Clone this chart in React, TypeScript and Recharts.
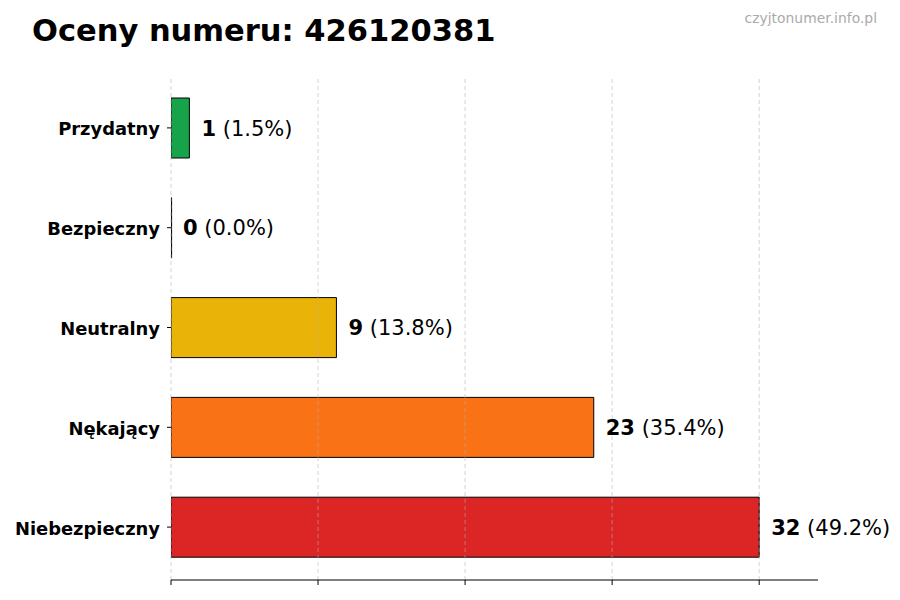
import React from "react";
import { BarChart, Bar, XAxis, YAxis, ReferenceLine, Cell, LabelList } from "recharts";

const categories = ["Przydatny", "Bezpieczny", "Neutralny", "Nękający", "Niebezpieczny"];
const counts = [1, 0, 9, 23, 32];
const percents = ["1.5%", "0.0%", "13.8%", "35.4%", "49.2%"];
const colors = ["#16a34a", "#6b7280", "#eab308", "#f97316", "#dc2626"];
const xTicks = [0, 8, 16, 24, 32];
const xMax = 35.2;

const data = categories.map((name, i) => ({ name, value: counts[i], pct: percents[i], color: colors[i] }));

const FONT = "DejaVu Sans, sans-serif";

const EmptyTick = () => null;

const YTick = (props: any) => {
  const { x, y, payload } = props;
  return (
    <text x={x} y={y + 1} dy="0.36em" textAnchor="end" fontFamily={FONT} fontWeight="bold" fontSize={17.9} fill="#000">
      {payload.value}
    </text>
  );
};

const ValueLabel = (props: any) => {
  const { x, y, height, value } = props;
  const d = data.find((e) => e.name === value);
  if (!d) return null;
  const endX = x + (d.value === 0 ? 0 : props.width);
  return (
    <text x={endX + 12} y={y + height / 2} dy="0.36em" fontFamily={FONT} fontSize={21} fill="#000">
      <tspan fontWeight="bold">{d.value}</tspan>
      <tspan> ({d.pct})</tspan>
    </text>
  );
};

export default function App() {
  return (
    <div style={{ position: "absolute", left: 0, top: 0, width: 900, height: 600, background: "#fff", fontFamily: FONT }}>
      <div style={{ position: "absolute", left: 32, top: 13, fontSize: 30.5, fontWeight: "bold", color: "#000", whiteSpace: "nowrap", lineHeight: "36px" }}>
        Oceny numeru: 426120381
      </div>
      <div style={{ position: "absolute", right: 23, top: 9, fontSize: 13.9, color: "#aaaaaa", whiteSpace: "nowrap", lineHeight: "18px" }}>
        czyjtonumer.info.pl
      </div>
      <BarChart
        width={900}
        height={600}
        data={data}
        layout="vertical"
        margin={{ top: 77, right: 82, bottom: 0, left: 0 }}
        barCategoryGap={0}
        style={{ position: "absolute", left: 0, top: 0 }}
      >
        <XAxis
          type="number"
          domain={[0, xMax]}
          ticks={xTicks}
          allowDataOverflow
          height={20}
          tick={<EmptyTick />}
          tickSize={5}
          axisLine={{ stroke: "#000", strokeWidth: 1.2 }}
          tickLine={{ stroke: "#000", strokeWidth: 1 }}
        />
        <YAxis
          type="category"
          dataKey="name"
          width={171}
          axisLine={false}
          tickSize={4}
          tickMargin={7}
          padding={{ top: 1, bottom: 3 }}
          tickLine={{ stroke: "#000", strokeWidth: 1 }}
          tick={<YTick />}
          interval={0}
        />
        <Bar dataKey="value" barSize={60} stroke="#000" strokeWidth={1} minPointSize={0.6} isAnimationActive={false}>
          {data.map((d, i) => (
            <Cell key={i} fill={d.color} />
          ))}
          <LabelList dataKey="name" content={<ValueLabel />} />
        </Bar>
        {xTicks.map((t) => (
          <ReferenceLine key={t} x={t} stroke="#b0b0b0" strokeOpacity={0.55} strokeDasharray="4 3" strokeWidth={1} />
        ))}
      </BarChart>
    </div>
  );
}
